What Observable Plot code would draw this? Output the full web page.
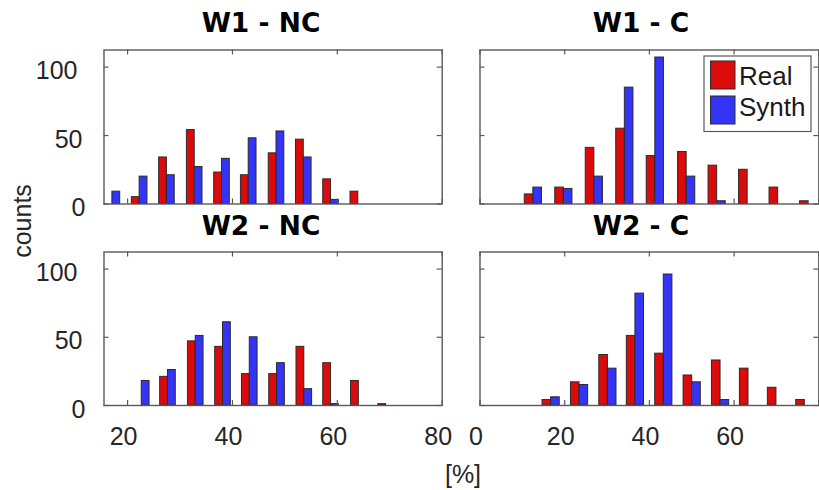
<!DOCTYPE html>
<html>
<head>
<meta charset="utf-8">
<script src="https://cdn.jsdelivr.net/npm/d3@7"></script>
<script src="https://cdn.jsdelivr.net/npm/@observablehq/plot@0.6"></script>
<style>
  html, body { margin: 0; padding: 0; background: #ffffff; }
  #chart { position: relative; width: 819px; height: 490px; overflow: hidden; background: #ffffff; }
  #chart svg { position: absolute; left: 0; top: 0; }
</style>
</head>
<body>
<div id="chart"></div>
<script>
// ---------- data ----------
const seriesNames = ["Real", "Synth"];
const panelTitles = ["W1 - NC", "W1 - C", "W2 - NC", "W2 - C"];
const yLabelText = "counts";
const xLabelText = "[%]";

// W1 - NC
const binsW1NC  = [17.1, 22.3, 27.5, 32.8, 38.0, 43.1, 48.4, 53.6, 58.8, 64.0];
const realW1NC  = [0, 5, 34, 54, 23, 21, 37, 47, 18, 9];
const synthW1NC = [9, 20, 21, 27, 33, 48, 53, 34, 3, 0];

// W1 - C
const binsW1C   = [12.6, 19.8, 27.0, 34.2, 41.4, 48.8, 56.0, 63.2, 70.4, 77.6];
const realW1C   = [7, 12, 41, 55, 35, 38, 28, 25, 12, 2];
const synthW1C  = [12, 11, 20, 85, 107, 20, 2, 0, 0, 0];

// W2 - NC
const binsW2NC  = [22.7, 27.7, 33.0, 38.2, 43.3, 48.5, 53.7, 58.8, 64.1, 69.3];
const realW2NC  = [0, 21, 47, 43, 23, 23, 43, 31, 18, 1];
const synthW2NC = [18, 26, 51, 61, 50, 31, 12, 1, 0, 0];

// W2 - C
const binsW2C   = [16.8, 23.5, 30.2, 36.7, 43.4, 50.1, 56.8, 63.4, 70.0, 76.7];
const realW2C   = [4, 17, 37, 51, 38, 22, 33, 27, 13, 4];
const synthW2C  = [6, 15, 27, 82, 96, 17, 4, 0, 0, 0];

// axes
const yTicks = [0, 50, 100];
const yDomain = [0, 112.5];
const xDomainNC = [15.5, 80];
const xDomainC = [0, 80];
const xTicksNC = [20, 40, 60, 80];
const xTicksC = [0, 20, 40, 60, 80];
const xLabelsNC = [20, 40, 60, 80];
const xLabelsC = [0, 20, 40, 60];

// ---------- style ----------
const W = 819, H = 490;
const colors = {real: "#dc0b0b", synth: "#3434f6", edge: "#2b2b2b", box: "#595959", text: "#262626"};
const sans = "'Liberation Sans', Arial, Helvetica, sans-serif";
const TICK_PX = 5;
const yLabelDx = [-18.5, -21.5, -26.5]; // per tick label (0, 50, 100)

function panel(o) {
  const [L, R, T, B] = o.frame;
  const kx = (R - L) / (o.xDomain[1] - o.xDomain[0]);
  const ky = (B - T) / (yDomain[1] - yDomain[0]);
  const bw = o.barPx / kx;
  const tx = TICK_PX / kx, ty = TICK_PX / ky;
  const rows = o.bins.map((b, i) => ({b, real: o.real[i], synth: o.synth[i]}));
  const marks = [
    Plot.rect(rows.filter(d => d.real > 0), {
      x1: d => d.b - bw, x2: d => d.b, y1: 0, y2: "real",
      fill: colors.real, stroke: colors.edge, strokeWidth: 1
    }),
    Plot.rect(rows.filter(d => d.synth > 0), {
      x1: d => d.b, x2: d => d.b + bw, y1: 0, y2: "synth",
      fill: colors.synth, stroke: colors.edge, strokeWidth: 1
    }),
    Plot.ruleX(o.xTicks, {x: d => d, y1: yDomain[0], y2: yDomain[0] + ty, stroke: colors.box, strokeWidth: 1.2}),
    Plot.ruleX(o.xTicks, {x: d => d, y1: yDomain[1] - ty, y2: yDomain[1], stroke: colors.box, strokeWidth: 1.2}),
    Plot.ruleY(yTicks, {y: d => d, x1: o.xDomain[0], x2: o.xDomain[0] + tx, stroke: colors.box, strokeWidth: 1.2}),
    Plot.ruleY(yTicks, {y: d => d, x1: o.xDomain[1] - tx, x2: o.xDomain[1], stroke: colors.box, strokeWidth: 1.2}),
    Plot.frame({stroke: colors.box, strokeWidth: 1.4})
  ];
  if (o.xLabels) {
    marks.push(Plot.text(o.xLabels, {
      x: d => d, text: d => String(d), frameAnchor: "bottom",
      dy: 39.5, dx: -4, fill: colors.text, fontSize: 25, fontFamily: sans
    }));
  }
  if (o.yLabels) {
    yTicks.forEach((t, i) => {
      marks.push(Plot.text([t], {
        y: d => d, text: d => String(d), frameAnchor: "left", textAnchor: "end",
        dx: yLabelDx[i], dy: 4, fill: colors.text, fontSize: 25, fontFamily: sans
      }));
    });
  }
  return Plot.plot({
    width: W, height: H,
    marginLeft: L, marginRight: W - R, marginTop: T, marginBottom: H - B,
    x: {domain: o.xDomain, axis: null},
    y: {domain: yDomain, axis: null},
    style: {background: "none", overflow: "visible", fontFamily: sans, fontSize: "25px", color: colors.text},
    marks
  });
}

const chart = document.getElementById("chart");
const panels = [
  {bins: binsW1NC, real: realW1NC, synth: synthW1NC, xDomain: xDomainNC, xTicks: xTicksNC,
   frame: [103.5, 441.7, 49.5, 203.5], barPx: 7.8, yLabels: true, xLabels: null},
  {bins: binsW1C, real: realW1C, synth: synthW1C, xDomain: xDomainC, xTicks: xTicksC,
   frame: [479.5, 818.3, 49.5, 203.5], barPx: 8.6, yLabels: false, xLabels: null},
  {bins: binsW2NC, real: realW2NC, synth: synthW2NC, xDomain: xDomainNC, xTicks: xTicksNC,
   frame: [103.5, 441.7, 251.5, 405], barPx: 7.8, yLabels: true, xLabels: xLabelsNC},
  {bins: binsW2C, real: realW2C, synth: synthW2C, xDomain: xDomainC, xTicks: xTicksC,
   frame: [479.5, 818.3, 251.5, 405], barPx: 8.6, yLabels: false, xLabels: xLabelsC}
];
panels.forEach(p => chart.appendChild(panel(p)));

// ---------- titles, axis labels, legend ----------
const svg = d3.create("svg").attr("width", W).attr("height", H)
  .attr("viewBox", `0 0 ${W} ${H}`)
  .style("font-family", sans);

const titlePos = [[261, 32], [641, 32], [261, 235], [641, 235]];
panelTitles.forEach((t, i) => {
  svg.append("text")
    .attr("x", titlePos[i][0]).attr("y", titlePos[i][1])
    .attr("text-anchor", "middle")
    .attr("font-family", "'DejaVu Sans', sans-serif")
    .attr("font-weight", "bold")
    .attr("font-size", 26.5)
    .attr("fill", "#000")
    .text(t);
});

svg.append("text")
  .attr("transform", "translate(31,221) rotate(-90)")
  .attr("text-anchor", "middle")
  .attr("font-size", 25)
  .attr("fill", colors.text)
  .text(yLabelText);

svg.append("text")
  .attr("x", 463).attr("y", 483)
  .attr("text-anchor", "middle")
  .attr("font-size", 25)
  .attr("fill", colors.text)
  .text(xLabelText);

// legend (inside W1 - C panel)
const lg = svg.append("g");
lg.append("rect").attr("x", 704).attr("y", 56).attr("width", 107).attr("height", 75.5)
  .attr("fill", "#fff").attr("stroke", colors.box).attr("stroke-width", 1.2);
const swatch = [colors.real, colors.synth];
seriesNames.forEach((name, i) => {
  lg.append("rect").attr("x", 710.5).attr("y", 61 + i * 35).attr("width", 24.5).attr("height", 28)
    .attr("fill", swatch[i]).attr("stroke", colors.edge).attr("stroke-width", 1);
  lg.append("text").attr("x", 739).attr("y", 85 + i * 30.5)
    .attr("font-size", 26).attr("fill", "#1a1a1a").text(name);
});

chart.appendChild(svg.node());
</script>
</body>
</html>
